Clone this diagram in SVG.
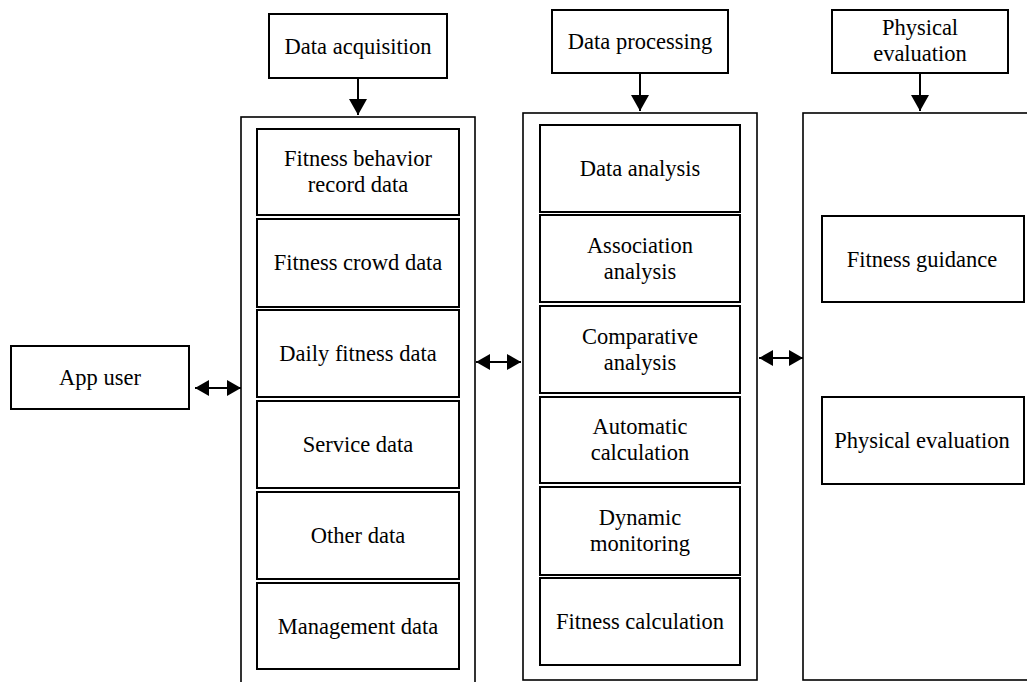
<svg xmlns="http://www.w3.org/2000/svg" width="1027" height="682" viewBox="0 0 1027 682">
  <style>
    .box { fill: #fff; stroke: #000; stroke-width: 2; }
    .outer { fill: #fff; stroke: #000; stroke-width: 1.6; }
    .lbl { font-family: "Liberation Serif", "Times New Roman", serif; font-size: 22.5px; fill: #000; text-anchor: middle; }
    .link { stroke: #000; stroke-width: 2; fill: none; }
  </style>
  <defs>
    <marker id="down" viewBox="0 0 16 18" refX="16" refY="9" markerWidth="16" markerHeight="18" markerUnits="userSpaceOnUse" orient="auto">
      <path d="M0,0 L16,9 L0,18 Z" fill="#000"/>
    </marker>
    <marker id="head" viewBox="0 0 14 16" refX="14" refY="8" markerWidth="14" markerHeight="16" markerUnits="userSpaceOnUse" orient="auto-start-reverse">
      <path d="M0,0 L14,8 L0,16 Z" fill="#000"/>
    </marker>
  </defs>

  <rect width="1027" height="682" fill="#fff"/>

  <!-- Column containers -->
  <g id="acquisition-panel"><rect class="outer" x="241" y="117" width="234" height="580"/></g>
  <g id="processing-panel"><rect class="outer" x="523" y="113" width="234" height="567"/></g>
  <g id="evaluation-panel"><rect class="outer" x="803" y="113" width="240" height="567"/></g>

  <!-- Headers -->
  <g id="hdr-acquisition"><rect class="box" x="269" y="14" width="178" height="64"/><text class="lbl" x="358" y="53.5">Data acquisition</text></g>
  <g id="hdr-processing"><rect class="box" x="552" y="10" width="176" height="63"/><text class="lbl" x="640" y="49">Data processing</text></g>
  <g id="hdr-evaluation"><rect class="box" x="832" y="10" width="176" height="63"/><text class="lbl" x="920" y="35">Physical</text><text class="lbl" x="920" y="61">evaluation</text></g>

  <!-- App user -->
  <g id="app-user"><rect class="box" x="11" y="346" width="178" height="63"/><text class="lbl" x="100" y="385">App user</text></g>

  <!-- Data acquisition items -->
  <g id="acq-1"><rect class="box" x="257" y="129" width="202" height="86"/><text class="lbl" x="358" y="166">Fitness behavior</text><text class="lbl" x="358" y="192">record data</text></g>
  <g id="acq-2"><rect class="box" x="257" y="219" width="202" height="88"/><text class="lbl" x="358" y="270">Fitness crowd data</text></g>
  <g id="acq-3"><rect class="box" x="257" y="310" width="202" height="87"/><text class="lbl" x="358" y="361">Daily fitness data</text></g>
  <g id="acq-4"><rect class="box" x="257" y="401" width="202" height="87"/><text class="lbl" x="358" y="452">Service data</text></g>
  <g id="acq-5"><rect class="box" x="257" y="492" width="202" height="87"/><text class="lbl" x="358" y="543">Other data</text></g>
  <g id="acq-6"><rect class="box" x="257" y="583" width="202" height="86"/><text class="lbl" x="358" y="634">Management data</text></g>

  <!-- Data processing items -->
  <g id="proc-1"><rect class="box" x="540" y="125" width="200" height="87"/><text class="lbl" x="640" y="176">Data analysis</text></g>
  <g id="proc-2"><rect class="box" x="540" y="215" width="200" height="87"/><text class="lbl" x="640" y="253">Association</text><text class="lbl" x="640" y="279">analysis</text></g>
  <g id="proc-3"><rect class="box" x="540" y="306" width="200" height="87"/><text class="lbl" x="640" y="344">Comparative</text><text class="lbl" x="640" y="370">analysis</text></g>
  <g id="proc-4"><rect class="box" x="540" y="397" width="200" height="86"/><text class="lbl" x="640" y="434">Automatic</text><text class="lbl" x="640" y="460">calculation</text></g>
  <g id="proc-5"><rect class="box" x="540" y="487" width="200" height="88"/><text class="lbl" x="640" y="525">Dynamic</text><text class="lbl" x="640" y="551">monitoring</text></g>
  <g id="proc-6"><rect class="box" x="540" y="578" width="200" height="87"/><text class="lbl" x="640" y="629">Fitness calculation</text></g>

  <!-- Physical evaluation items -->
  <g id="eval-1"><rect class="box" x="822" y="216" width="202" height="86"/><text class="lbl" x="922" y="267">Fitness guidance</text></g>
  <g id="eval-2"><rect class="box" x="822" y="397" width="202" height="87"/><text class="lbl" x="922" y="448">Physical evaluation</text></g>

  <!-- Connectors -->
  <g id="connectors">
    <line class="link" x1="358" y1="78" x2="358" y2="115" marker-end="url(#down)"/>
    <line class="link" x1="640" y1="73" x2="640" y2="111" marker-end="url(#down)"/>
    <line class="link" x1="920" y1="73" x2="920" y2="111" marker-end="url(#down)"/>
    <line class="link" x1="195" y1="388" x2="241" y2="388" marker-start="url(#head)" marker-end="url(#head)"/>
    <line class="link" x1="476" y1="362" x2="521" y2="362" marker-start="url(#head)" marker-end="url(#head)"/>
    <line class="link" x1="759" y1="358" x2="803" y2="358" marker-start="url(#head)" marker-end="url(#head)"/>
  </g>
</svg>
